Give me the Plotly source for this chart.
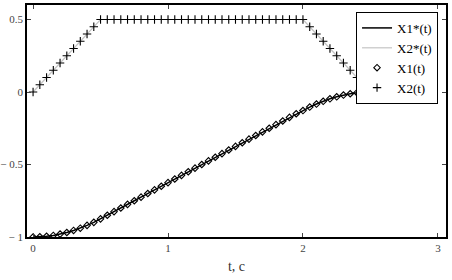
import plotly.graph_objects as go

t = [0, 0.05, 0.1, 0.15, 0.2, 0.25, 0.3, 0.35, 0.4, 0.45,
     0.5, 0.55, 0.6, 0.65, 0.7, 0.75, 0.8, 0.85, 0.9, 0.95,
     1.0, 1.05, 1.1, 1.15, 1.2, 1.25, 1.3, 1.35, 1.4, 1.45,
     1.5, 1.55, 1.6, 1.65, 1.7, 1.75, 1.8, 1.85, 1.9, 1.95,
     2.0, 2.05, 2.1, 2.15, 2.2, 2.25, 2.3, 2.35, 2.4, 2.45]

x1 = [-1.0, -0.999, -0.995, -0.989, -0.98, -0.969, -0.955, -0.939, -0.92, -0.899,
      -0.875, -0.85, -0.825, -0.8, -0.775, -0.75, -0.725, -0.7, -0.675, -0.65,
      -0.625, -0.6, -0.575, -0.55, -0.525, -0.5, -0.475, -0.45, -0.425, -0.4,
      -0.375, -0.35, -0.325, -0.3, -0.275, -0.25, -0.225, -0.2, -0.175, -0.15,
      -0.128, -0.104, -0.083, -0.064, -0.047, -0.033, -0.021, -0.012, -0.005, -0.001]

x2 = [0, 0.05, 0.1, 0.15, 0.2, 0.25, 0.3, 0.35, 0.4, 0.45,
      0.5, 0.5, 0.5, 0.5, 0.5, 0.5, 0.5, 0.5, 0.5, 0.5,
      0.5, 0.5, 0.5, 0.5, 0.5, 0.5, 0.5, 0.5, 0.5, 0.5,
      0.5, 0.5, 0.5, 0.5, 0.5, 0.5, 0.5, 0.5, 0.5, 0.5,
      0.5, 0.45, 0.4, 0.35, 0.3, 0.25, 0.2, 0.15, 0.1, 0.05]

y_ticks = [-1, -0.5, 0, 0.5]
y_labels = ['\u2212 1', '\u2212 0.5', '0', '0.5']

serif = 'Liberation Serif, Times New Roman, serif'

fig = go.Figure()
fig.add_trace(go.Scatter(x=t, y=x1, mode='lines', name='X1*(t)',
                         line=dict(color='black', width=1.5)))
fig.add_trace(go.Scatter(x=t, y=x2, mode='lines', name='X2*(t)',
                         line=dict(color='#c4c4c4', width=1.2)))
fig.add_trace(go.Scatter(x=t, y=x1, mode='markers', name='X1(t)',
                         marker=dict(symbol='diamond-open', size=5, color='black',
                                     line=dict(width=1.1, color='black'))))
fig.add_trace(go.Scatter(x=t, y=x2, mode='markers', name='X2(t)',
                         marker=dict(symbol='cross-thin', size=6, color='black',
                                     line=dict(width=1.1, color='black'))))

fig.update_xaxes(range=[-0.045, 3.06], tickvals=[0, 1, 2, 3], ticks='inside', ticklen=4,
                 showline=True, linecolor='black', linewidth=1.5, mirror='ticks',
                 showgrid=False, zeroline=False, automargin=False,
                 tickfont=dict(family=serif, size=11, color='#444'),
                 title=dict(text='t, c', font=dict(family=serif, size=14, color='#333'),
                            standoff=8))
fig.update_yaxes(range=[-1, 0.6], tickvals=y_ticks, ticktext=y_labels, ticks='inside', ticklen=4,
                 showline=True, linecolor='black', linewidth=1.5, mirror='ticks',
                 showgrid=False, zeroline=False, automargin=False,
                 tickfont=dict(family=serif, size=11, color='#444'))
fig.update_layout(width=452, height=280, margin=dict(l=27, r=6, t=5, b=43),
                  plot_bgcolor='white', paper_bgcolor='white',
                  legend=dict(x=0.981, y=0.97, xanchor='right', yanchor='top',
                              bgcolor='white', bordercolor='black', borderwidth=1,
                              font=dict(family=serif, size=13, color='black'),
                              itemwidth=30, tracegroupgap=0))
fig.write_html("out.html", config={'displayModeBar': False},
               post_script="document.body.style.margin='0';")
